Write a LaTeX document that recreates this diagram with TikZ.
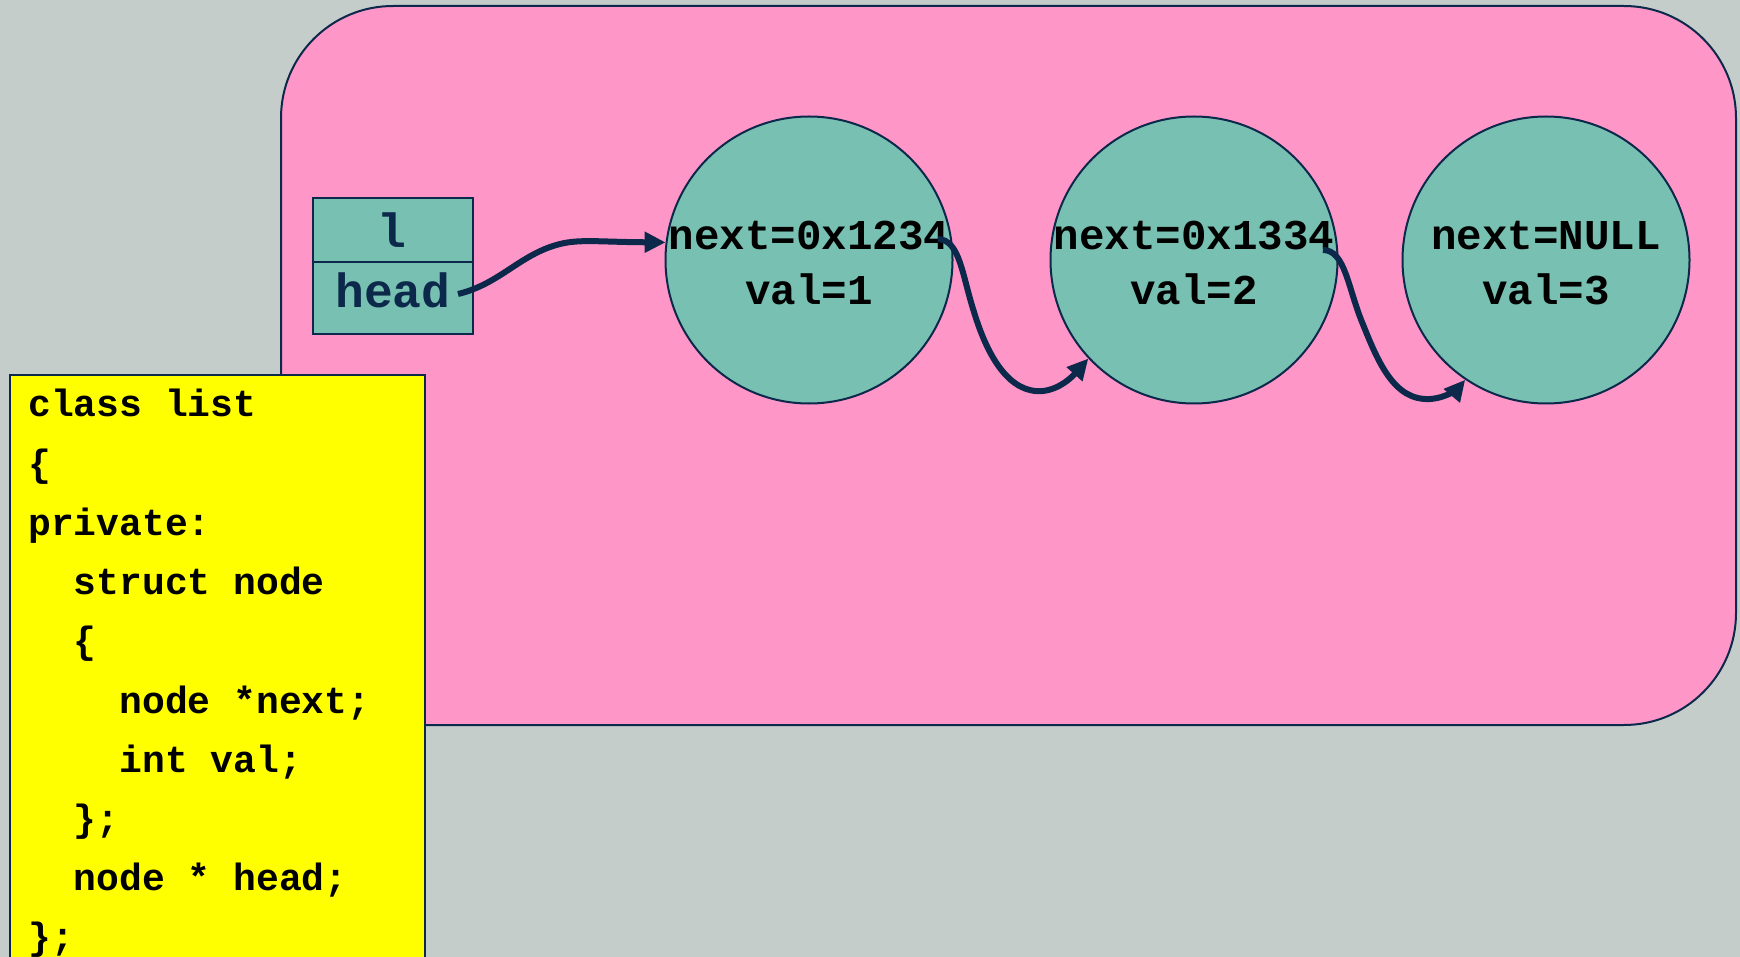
\documentclass[tikz,border=0pt]{standalone}
\usepackage{fontspec}
\setmonofont{Liberation Mono}
\usetikzlibrary{arrows.meta}
\definecolor{bgc}{RGB}{196,205,202}
\definecolor{pinkc}{RGB}{255,150,200}
\definecolor{tealc}{RGB}{120,192,178}
\definecolor{navyc}{RGB}{12,40,74}
\definecolor{yellowc}{RGB}{255,255,0}
\tikzset{
  circ/.style={circle, draw=navyc, line width=2pt, fill=tealc, minimum size=287pt, inner sep=0pt},
  ctext/.style={anchor=base, inner sep=0pt, font=\ttfamily\bfseries\fontsize{42.5}{50}\selectfont, text=black},
  btext/.style={anchor=base, inner sep=0pt, font=\ttfamily\bfseries\fontsize{48}{56}\selectfont, text=navyc},
  code/.style={anchor=base west, inner sep=0pt, font=\ttfamily\bfseries\fontsize{38}{46}\selectfont, text=black},
  ptr/.style={draw=navyc, line width=6pt, -{Triangle[length=21pt,width=20pt]}},
}
\begin{document}
\begin{tikzpicture}[x=1pt,y=-1pt]
\useasboundingbox (0,0) rectangle (1740,957);
\clip (0,0) rectangle (1740,957);
\fill[bgc] (0,0) rectangle (1740,957);
% pink container
\draw[fill=pinkc, draw=navyc, line width=2pt, rounded corners=112pt] (281,6) rectangle (1736,725);
% variable box
\node[draw=navyc, line width=2pt, fill=tealc, minimum width=160pt, minimum height=64pt, inner sep=0pt] (lbox) at (393,230) {};
\node[draw=navyc, line width=2pt, fill=tealc, minimum width=160pt, minimum height=72pt, inner sep=0pt] (hbox) at (393,298) {};
\node[btext] (ltxt) at (392,248) {l};
\node[btext] (htxt) at (393,308) {head};
% circles
\node[circ] (c1) at (809,260) {};
\node[circ] (c2) at (1194,260) {};
\node[circ] (c3) at (1546,260) {};
\node[ctext] (n1) at (809,250) {next=0x1234};
\node[ctext] (v1) at (809,305) {val=1};
\node[ctext] (n2) at (1194,250) {next=0x1334};
\node[ctext] (v2) at (1194,305) {val=2};
\node[ctext] (n3) at (1546,250) {next=NULL};
\node[ctext] (v3) at (1546,305) {val=3};
% pointer start points
\coordinate (s1) at (458,294);
\coordinate (s2) at (938,239);
\coordinate (s3) at (1323,250);
% arrows
\draw[ptr] (s1) .. controls (500,284) and (520,254) .. (560,244)
  .. controls (580,239) and (600,242) .. (c1.173);
\draw[ptr] (s2) .. controls (960,240) and (962,275) .. (974,312)
  .. controls (988,358) and (1010,394) .. (1043,391)
  .. controls (1060,389) and (1072,377) .. (c2.223);
\draw[ptr] (s3) .. controls (1345,250) and (1348,288) .. (1362,322)
  .. controls (1378,362) and (1394,401) .. (1430,399)
  .. controls (1448,398) and (1460,386) .. (c3.236);
% code box
\node[draw=navyc, line width=2pt, fill=yellowc, minimum width=415pt, minimum height=600pt, inner sep=0pt, anchor=north west] (codebox) at (9,374) {};
\node[code] (k1) at (28,417) {class list};
\node[code] (k2) at (28,476.2) {\{};
\node[code] (k3) at (28,535.4) {private:};
\node[code] (k4) at (28,594.6) {\hphantom{xx}struct node};
\node[code] (k5) at (28,653.8) {\hphantom{xx}\{};
\node[code] (k6) at (28,713) {\hphantom{xxxx}node *next;};
\node[code] (k7) at (28,772.2) {\hphantom{xxxx}int val;};
\node[code] (k8) at (28,831.4) {\hphantom{xx}\};};
\node[code] (k9) at (28,890.6) {\hphantom{xx}node * head;};
\node[code] (k10) at (28,949.8) {\};};
\end{tikzpicture}
\end{document}
